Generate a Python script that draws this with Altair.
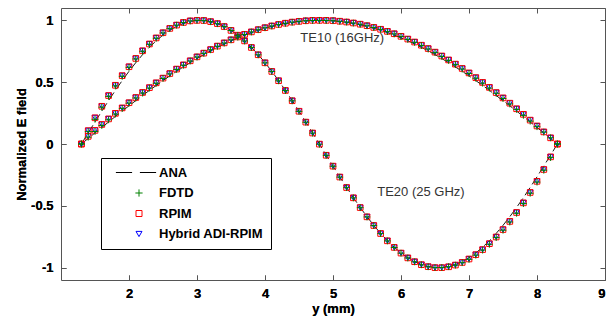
import altair as alt
import pandas as pd

# Sample positions across the guide (mm)
y_mm = [1.3, 1.4, 1.5, 1.6, 1.7, 1.8, 1.9, 2.0, 2.1, 2.2, 2.3, 2.4, 2.5, 2.6, 2.7,
        2.8, 2.9, 3.0, 3.1, 3.2, 3.3, 3.4, 3.5, 3.6, 3.7, 3.8, 3.9, 4.0, 4.1, 4.2,
        4.3, 4.4, 4.5, 4.6, 4.7, 4.8, 4.9, 5.0, 5.1, 5.2, 5.3, 5.4, 5.5, 5.6, 5.7,
        5.8, 5.9, 6.0, 6.1, 6.2, 6.3, 6.4, 6.5, 6.6, 6.7, 6.8, 6.9, 7.0, 7.1, 7.2,
        7.3, 7.4, 7.5, 7.6, 7.7, 7.8, 7.9, 8.0, 8.1, 8.2, 8.3]

# TE10 mode (16 GHz)
te10_ana = [0, 0.045, 0.090, 0.134, 0.178, 0.223, 0.266, 0.309, 0.351, 0.392, 0.434,
            0.473, 0.513, 0.551, 0.588, 0.623, 0.658, 0.691, 0.723, 0.753, 0.782,
            0.809, 0.835, 0.858, 0.881, 0.901, 0.920, 0.936, 0.951, 0.964, 0.975,
            0.984, 0.991, 0.996, 0.999, 1.000, 0.999, 0.996, 0.991, 0.984, 0.975,
            0.964, 0.951, 0.936, 0.920, 0.901, 0.881, 0.858, 0.835, 0.809, 0.782,
            0.753, 0.723, 0.691, 0.658, 0.623, 0.588, 0.551, 0.513, 0.473, 0.434,
            0.392, 0.351, 0.309, 0.266, 0.223, 0.178, 0.134, 0.090, 0.045, 0]
te10_fdtd = [0, 0.055, 0.101, 0.150, 0.196, 0.242, 0.288, 0.330, 0.372, 0.412, 0.452,
             0.491, 0.530, 0.567, 0.603, 0.637, 0.671, 0.703, 0.733, 0.762, 0.790,
             0.816, 0.842, 0.864, 0.886, 0.906, 0.924, 0.940, 0.954, 0.966, 0.976,
             0.985, 0.992, 0.997, 0.999, 1.000, 0.999, 0.997, 0.992, 0.986, 0.978,
             0.968, 0.956, 0.942, 0.927, 0.909, 0.890, 0.869, 0.846, 0.822, 0.796,
             0.768, 0.739, 0.708, 0.676, 0.642, 0.606, 0.570, 0.532, 0.492, 0.452,
             0.410, 0.368, 0.324, 0.280, 0.232, 0.185, 0.140, 0.096, 0.050, 0]
te10_rpim = [0, 0.062, 0.110, 0.158, 0.203, 0.248, 0.292, 0.334, 0.376, 0.417, 0.456,
             0.495, 0.533, 0.570, 0.606, 0.640, 0.673, 0.705, 0.735, 0.764, 0.792,
             0.818, 0.843, 0.866, 0.887, 0.907, 0.925, 0.941, 0.955, 0.967, 0.977,
             0.986, 0.992, 0.997, 1.000, 1.000, 1.000, 0.998, 0.993, 0.987, 0.979,
             0.969, 0.957, 0.943, 0.928, 0.911, 0.892, 0.871, 0.849, 0.825, 0.799,
             0.772, 0.743, 0.712, 0.680, 0.646, 0.611, 0.575, 0.537, 0.498, 0.458,
             0.416, 0.373, 0.330, 0.285, 0.240, 0.193, 0.146, 0.098, 0.050, 0]
te10_hybrid = te10_rpim

# TE20 mode (25 GHz)
te20_ana = [0, 0.090, 0.178, 0.266, 0.351, 0.434, 0.513, 0.588, 0.658, 0.723, 0.782,
            0.835, 0.881, 0.920, 0.951, 0.975, 0.991, 0.999, 0.999, 0.991, 0.975,
            0.951, 0.920, 0.881, 0.835, 0.782, 0.723, 0.658, 0.588, 0.513, 0.434,
            0.351, 0.266, 0.178, 0.090, 0, -0.090, -0.178, -0.266, -0.351, -0.434,
            -0.513, -0.588, -0.658, -0.723, -0.782, -0.835, -0.881, -0.920, -0.951, -0.975,
            -0.991, -0.999, -0.999, -0.991, -0.975, -0.951, -0.920, -0.881, -0.835, -0.782,
            -0.723, -0.658, -0.588, -0.513, -0.434, -0.351, -0.266, -0.178, -0.090, 0]
te20_fdtd = [0, 0.100, 0.200, 0.298, 0.385, 0.470, 0.547, 0.620, 0.688, 0.750, 0.806,
             0.855, 0.898, 0.933, 0.961, 0.982, 0.995, 1.000, 0.998, 0.989, 0.973,
             0.949, 0.918, 0.879, 0.833, 0.780, 0.721, 0.656, 0.586, 0.511, 0.432,
             0.349, 0.264, 0.176, 0.088, -0.002, -0.092, -0.180, -0.268, -0.353, -0.436,
             -0.515, -0.590, -0.660, -0.725, -0.784, -0.837, -0.883, -0.922, -0.953, -0.977,
             -0.993, -1.000, -0.999, -0.992, -0.980, -0.960, -0.933, -0.899, -0.858, -0.811,
             -0.757, -0.697, -0.631, -0.560, -0.482, -0.398, -0.308, -0.212, -0.110, 0]
te20_rpim = [0, 0.108, 0.212, 0.305, 0.392, 0.475, 0.553, 0.625, 0.692, 0.754, 0.809,
             0.858, 0.900, 0.935, 0.962, 0.983, 0.996, 1.000, 0.999, 0.990, 0.974,
             0.950, 0.919, 0.880, 0.834, 0.781, 0.722, 0.657, 0.587, 0.512, 0.433,
             0.350, 0.265, 0.177, 0.089, -0.001, -0.091, -0.179, -0.267, -0.352, -0.435,
             -0.514, -0.589, -0.659, -0.724, -0.783, -0.836, -0.882, -0.921, -0.952, -0.976,
             -0.992, -1.000, -1.000, -0.993, -0.979, -0.958, -0.930, -0.895, -0.854, -0.806,
             -0.752, -0.692, -0.626, -0.554, -0.476, -0.392, -0.302, -0.206, -0.104, 0]
te20_hybrid = te20_rpim

methods = ["ANA", "FDTD", "RPIM", "Hybrid ADI-RPIM"]
method_colors = ["#000000", "#008000", "#ff0000", "#0000ff"]
method_shapes = [
    "M-7.7,0H-2.3M0.3,0H5.7",      # dashed line sample for the analytic curve
    "M-1.2,0H1.2M0,-1.2V1.2",      # plus
    "square",
    "triangle-down",
]

x_ticks = [2, 3, 4, 5, 6, 7, 8, 9]
y_ticks = [-1, -0.5, 0, 0.5, 1]

labels_text = ["TE10 (16GHz)", "TE20 (25 GHz)"]
labels_x = [4.52, 5.65]
labels_y = [0.857, -0.389]

# Long-form tables
ana_rows = []
for mode, vals in (("TE10", te10_ana), ("TE20", te20_ana)):
    for xv, v in zip(y_mm, vals):
        ana_rows.append({"y_mm": xv, "E": v, "mode": mode})
ana_df = pd.DataFrame(ana_rows)

num_rows = []
series = [
    ("Hybrid ADI-RPIM", 0, te10_hybrid, te20_hybrid),
    ("RPIM", 1, te10_rpim, te20_rpim),
    ("FDTD", 2, te10_fdtd, te20_fdtd),
]
for name, z, v10, v20 in series:
    for mode, vals in (("TE10", v10), ("TE20", v20)):
        for xv, v in zip(y_mm, vals):
            num_rows.append({"y_mm": xv, "E": v, "mode": mode, "method": name, "z": z})
num_df = pd.DataFrame(num_rows)

label_df = pd.DataFrame({"lx": labels_x, "ly": labels_y, "txt": labels_text})

FONT = "Liberation Sans"
FRAME = "#555555"

x_scale = alt.Scale(domain=[1, 9], nice=False, zero=False)
y_scale = alt.Scale(domain=[-1.1, 1.1], nice=False, zero=False)

y_label_expr = "datum.value < 0 ? '-' + format(-datum.value, '~g') : format(datum.value, '~g')"

x_axis_bottom = alt.Axis(values=x_ticks, orient="bottom", domain=False, grid=False,
                         ticks=True, tickSize=5, offset=-5, tickColor=FRAME,
                         labelPadding=7, labelFont=FONT, labelFontSize=13,
                         labelFontWeight="bold", labelColor="#000000",
                         titleFont=FONT, titleFontSize=13, titleFontWeight="bold",
                         titleColor="#000000", titlePadding=2, format="~g")
y_axis_left = alt.Axis(values=y_ticks, orient="left", domain=False, grid=False,
                       ticks=True, tickSize=5, offset=-5, tickColor=FRAME,
                       labelPadding=8, labelFont=FONT, labelFontSize=13,
                       labelFontWeight="bold", labelColor="#000000",
                       labelExpr=y_label_expr,
                       titleFont=FONT, titleFontSize=13, titleFontWeight="bold",
                       titleColor="#000000", titlePadding=2)
x_axis_top = alt.Axis(values=x_ticks, orient="top", domain=False, grid=False,
                      ticks=True, tickSize=5, offset=-5, tickColor=FRAME,
                      labels=False, title=None)
y_axis_right = alt.Axis(values=y_ticks, orient="right", domain=False, grid=False,
                        ticks=True, tickSize=5, offset=-5, tickColor=FRAME,
                        labels=False, title=None)

legend = alt.Legend(
    title=None, orient="none", legendX=40, legendY=150,
    strokeColor="#000000", fillColor="#ffffff", padding=8,
    symbolSize=36, symbolStrokeWidth=1, symbolOffset=23.5,
    labelOffset=13.5, labelFont=FONT, labelFontSize=13, labelFontWeight="bold",
    labelColor="#000000", rowPadding=6.5, cornerRadius=0,
)

ana = alt.Chart(ana_df).mark_line(
    color="#000000", strokeWidth=0.9, strokeDash=[9, 4]
).encode(
    x=alt.X("y_mm:Q", scale=x_scale, axis=x_axis_bottom, title="y (mm)"),
    y=alt.Y("E:Q", scale=y_scale, axis=y_axis_left, title="Normalized E field"),
    detail="mode:N",
)

markers = alt.Chart(num_df).mark_point(
    filled=False, size=32, strokeWidth=1, opacity=1
).encode(
    x=alt.X("y_mm:Q", scale=x_scale, axis=x_axis_bottom, title="y (mm)"),
    y=alt.Y("E:Q", scale=y_scale, axis=y_axis_left, title="Normalized E field"),
    color=alt.Color("method:N", scale=alt.Scale(domain=methods, range=method_colors),
                    legend=legend),
    shape=alt.Shape("method:N", scale=alt.Scale(domain=methods, range=method_shapes),
                    legend=legend),
    detail="mode:N",
    order=alt.Order("z:Q"),
)

notes = alt.Chart(label_df).mark_text(
    align="left", baseline="middle", font=FONT, fontSize=13, color="#333333"
).encode(
    x=alt.X("lx:Q", scale=x_scale, axis=x_axis_top),
    y=alt.Y("ly:Q", scale=y_scale, axis=y_axis_right),
    text="txt:N",
)

chart = alt.layer(ana, markers, notes).properties(
    width=544, height=272,
    autosize=alt.AutoSizeParams(type="none"),
    padding={"left": 61, "top": 8, "right": 9, "bottom": 40},
    background="#ffffff",
).configure_view(
    stroke=FRAME, strokeWidth=1
)

chart.save("out.html", embed_options={"renderer": "svg", "actions": False})
